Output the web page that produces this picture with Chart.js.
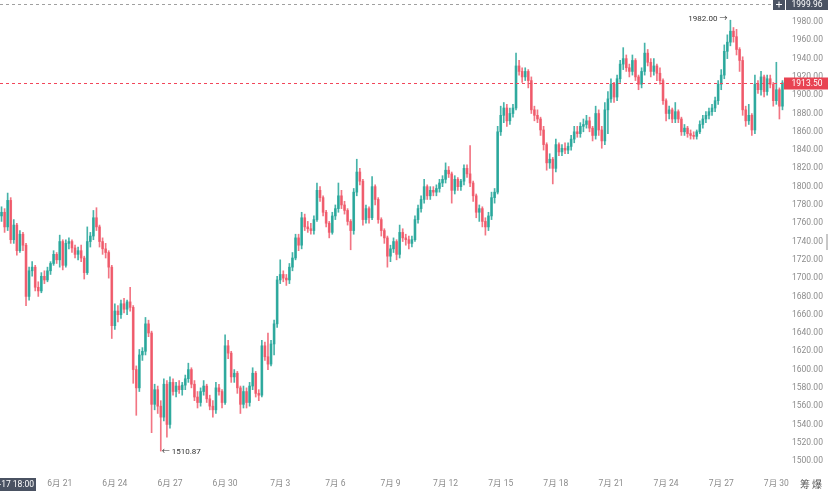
<!DOCTYPE html>
<html>
<head>
<meta charset="utf-8">
<script src="https://cdn.jsdelivr.net/npm/chart.js@4.4.1/dist/chart.umd.min.js"></script>
<style>
html,body{margin:0;padding:0;background:#fff;}
#wrap{width:828px;height:495px;position:relative;}
</style>
</head>
<body>
<div id="wrap"><canvas id="c" width="828" height="495"></canvas></div>
<script>
// ---- data (4-hour candles, starting 6-17 20:00) ----
const openPrices = [
1768,1772,1756,1785,1742,1758,1730,1748,1736,1680,
1708,1712,1690,1686,1702,1698,1708,1716,1726,1720,
1740,1714,1738,1740,1733,1726,1730,1722,1706,1740,
1746,1766,1756,1740,1732,1728,1712,1648,1664,1660,
1672,1666,1674,1668,1600,1580,1616,1620,1650,1640,
1562,1578,1560,1548,1584,1540,1586,1576,1582,1578,
1583,1590,1600,1584,1570,1564,1576,1582,1568,1560,
1556,1580,1576,1564,1626,1618,1592,1596,1580,1562,
1576,1564,1582,1596,1574,1572,1626,1614,1606,1628,
1650,1698,1704,1700,1698,1712,1722,1744,1736,1766,
1756,1754,1752,1764,1796,1788,1772,1760,1750,1768,
1776,1790,1780,1774,1762,1752,1794,1816,1806,1764,
1776,1766,1800,1786,1764,1752,1744,1724,1732,1740,
1726,1750,1744,1742,1738,1742,1764,1776,1786,1800,
1790,1796,1794,1798,1804,1808,1818,1814,1796,1808,
1800,1806,1820,1814,1804,1790,1772,1776,1762,1756,
1768,1788,1794,1860,1878,1886,1872,1880,1886,1932,
1926,1920,1926,1916,1884,1878,1874,1862,1846,1826,
1830,1820,1846,1838,1842,1840,1844,1852,1860,1858,
1866,1868,1872,1864,1856,1880,1862,1850,1884,1896,
1912,1898,1918,1934,1940,1930,1926,1938,1920,1912,
1926,1946,1936,1926,1932,1924,1916,1894,1880,1884,
1874,1882,1874,1860,1864,1858,1856,1855,1860,1868,
1874,1878,1882,1886,1894,1912,1922,1948,1958,1970,
1964,1950,1938,1884,1872,1878,1862,1912,1906,1920,
1904,1918,1912,1894,1906,1888
];
const highPrices = [
1778,1776,1793,1788,1764,1760,1752,1750,1738,1712,
1718,1714,1696,1706,1708,1712,1718,1730,1728,1747,
1742,1742,1744,1742,1736,1734,1736,1724,1756,1750,
1774,1777,1758,1744,1738,1730,1714,1672,1670,1676,
1678,1676,1690,1670,1604,1622,1624,1657,1654,1642,
1584,1582,1566,1590,1588,1592,1590,1586,1588,1586,
1594,1607,1602,1588,1576,1580,1588,1584,1572,1566,
1586,1584,1578,1638,1632,1620,1600,1598,1582,1582,
1580,1586,1602,1598,1578,1632,1630,1640,1632,1654,
1702,1720,1708,1704,1716,1728,1748,1748,1772,1770,
1762,1760,1768,1804,1800,1790,1774,1762,1772,1780,
1804,1796,1784,1776,1764,1798,1830,1820,1808,1780,
1778,1811,1802,1788,1766,1754,1746,1736,1744,1742,
1758,1754,1748,1746,1746,1768,1780,1790,1808,1802,
1800,1800,1802,1808,1812,1826,1822,1816,1812,1810,
1808,1824,1824,1845,1806,1792,1780,1778,1766,1772,
1794,1798,1866,1888,1892,1890,1886,1890,1946,1938,
1930,1930,1928,1920,1888,1884,1876,1866,1848,1836,
1832,1852,1848,1846,1848,1848,1856,1866,1866,1870,
1874,1878,1876,1866,1888,1884,1866,1892,1904,1918,
1914,1922,1938,1952,1944,1934,1944,1940,1922,1930,
1957,1950,1940,1940,1934,1930,1918,1896,1888,1886,
1892,1884,1876,1868,1866,1862,1860,1862,1872,1878,
1882,1886,1890,1898,1916,1928,1955,1966,1982,1974,
1972,1952,1942,1888,1890,1880,1922,1916,1926,1922,
1922,1922,1914,1936,1908,1916
];
const lowPrices = [
1762,1750,1752,1738,1738,1725,1728,1730,1670,1676,
1702,1686,1680,1684,1694,1696,1704,1714,1716,1712,
1709,1712,1732,1728,1722,1720,1718,1699,1704,1734,
1742,1752,1734,1726,1722,1700,1634,1644,1652,1656,
1662,1660,1664,1585,1550,1576,1610,1616,1636,1531,
1556,1552,1510.87,1544,1526,1536,1572,1570,1574,1572,
1578,1586,1580,1566,1558,1560,1572,1564,1556,1548,
1552,1572,1558,1562,1612,1586,1586,1574,1552,1558,
1558,1560,1578,1570,1566,1570,1610,1600,1604,1616,
1646,1694,1696,1692,1694,1708,1720,1730,1732,1752,
1750,1748,1748,1762,1784,1768,1756,1744,1748,1764,
1772,1776,1770,1758,1731,1748,1790,1802,1758,1760,
1760,1764,1780,1760,1746,1738,1712,1718,1728,1720,
1722,1740,1736,1732,1734,1740,1760,1772,1782,1786,
1786,1790,1790,1794,1800,1804,1810,1782,1792,1796,
1796,1802,1810,1800,1784,1766,1762,1756,1747,1752,
1764,1782,1792,1856,1870,1866,1868,1876,1884,1922,
1914,1916,1908,1880,1872,1870,1856,1840,1818,1820,
1803,1816,1834,1834,1836,1836,1840,1848,1854,1854,
1860,1864,1860,1850,1852,1856,1842,1846,1858,1892,
1892,1894,1914,1928,1926,1920,1922,1916,1906,1908,
1922,1932,1920,1922,1916,1912,1890,1872,1874,1870,
1870,1870,1856,1856,1854,1852,1852,1852,1858,1864,
1870,1874,1878,1882,1890,1906,1918,1940,1954,1958,
1944,1926,1878,1866,1868,1856,1858,1902,1900,1898,
1900,1908,1888,1890,1874,1884
];
const closePrices = [
1772,1756,1785,1742,1758,1730,1748,1736,1680,1708,
1712,1690,1686,1702,1698,1708,1716,1726,1720,1740,
1714,1738,1740,1733,1726,1730,1722,1706,1740,1746,
1766,1756,1740,1732,1728,1712,1648,1664,1660,1672,
1666,1674,1668,1600,1580,1616,1620,1650,1640,1562,
1578,1560,1548,1584,1540,1586,1576,1582,1578,1583,
1590,1600,1584,1570,1564,1576,1582,1568,1560,1556,
1580,1576,1564,1626,1618,1592,1596,1580,1562,1576,
1564,1582,1596,1574,1572,1626,1614,1606,1628,1650,
1698,1704,1700,1698,1712,1722,1744,1736,1766,1756,
1754,1752,1764,1796,1788,1772,1760,1750,1768,1776,
1790,1780,1774,1762,1752,1794,1816,1806,1764,1776,
1766,1800,1786,1764,1752,1744,1724,1732,1740,1726,
1750,1744,1742,1738,1742,1764,1776,1786,1800,1790,
1796,1794,1798,1804,1808,1818,1814,1796,1808,1800,
1806,1820,1814,1804,1790,1772,1776,1762,1756,1768,
1788,1794,1860,1878,1886,1872,1880,1886,1932,1926,
1920,1926,1916,1884,1878,1874,1862,1846,1826,1830,
1820,1846,1838,1842,1840,1844,1852,1860,1858,1866,
1868,1872,1864,1856,1880,1862,1850,1884,1896,1912,
1898,1918,1934,1940,1930,1926,1938,1920,1912,1926,
1946,1936,1926,1932,1924,1916,1894,1880,1884,1874,
1882,1874,1860,1864,1858,1856,1855,1860,1868,1874,
1878,1882,1886,1894,1912,1922,1948,1958,1970,1964,
1950,1938,1884,1872,1878,1862,1912,1906,1920,1904,
1918,1912,1894,1906,1888,1913.5
];
const tickDates  = ['6-21','6-24','6-27','6-30','7-3','7-6','7-9','7-12','7-15','7-18','7-21','7-24','7-27','7-30'];
const tickLabels = ['6月 21','6月 24','6月 27','6月 30','7月 3','7月 6','7月 9','7月 12','7月 15','7月 18','7月 21','7月 24','7月 27','7月 30'];
const yTickValues = [1500,1520,1540,1560,1580,1600,1620,1640,1660,1680,1700,1720,1740,1760,1780,1800,1820,1840,1860,1880,1900,1920,1940,1960,1980];
const crosshairPrice = 1999.96;
const crosshairTimeLabel = '6-17 18:00';
const cornerText = '筹 爆';

// categories: one per 4h candle
const startMonth = 6, startDay = 17, startHour = 20, stepHours = 4;
const categories = closePrices.map((_, i) => {
  const d = new Date(Date.UTC(2024, startMonth - 1, startDay, startHour + i * stepHours));
  return (d.getUTCMonth() + 1) + '-' + d.getUTCDate() + ' ' + String(d.getUTCHours()).padStart(2, '0') + ':00';
});

const UP = 'rgba(38,166,154,0.85)', DOWN = 'rgba(239,83,100,0.8)';
const colorFor = (ctx) => closePrices[ctx.dataIndex] >= openPrices[ctx.dataIndex] ? UP : DOWN;
const FONT = 'Roboto, "Noto Sans CJK SC", sans-serif';

const overlay = {
  id: 'overlay',
  afterDraw(chart) {
    const { ctx, chartArea: a, scales: { x, y } } = chart;
    ctx.save();
    // crosshair horizontal line
    const yc = Math.round(y.getPixelForValue(crosshairPrice)) + 0.5;
    ctx.lineWidth = 1;
    ctx.setLineDash([3, 3]);
    ctx.strokeStyle = '#a0a0a0';
    ctx.beginPath(); ctx.moveTo(a.left, yc); ctx.lineTo(a.right - 12, yc); ctx.stroke();
    // last price line
    const last = closePrices[closePrices.length - 1];
    const yl = Math.round(y.getPixelForValue(last)) + 0.5;
    ctx.setLineDash([3, 3]);
    ctx.strokeStyle = 'rgb(242,70,90)';
    ctx.beginPath(); ctx.moveTo(a.left, yl); ctx.lineTo(a.right, yl); ctx.stroke();
    ctx.setLineDash([]);

    // crosshair price label + plus box
    ctx.fillStyle = '#4a5262';
    ctx.fillRect(a.right + 2, yc - 6.5, 828 - a.right - 2, 12);
    ctx.fillRect(a.right - 11, yc - 6.5, 12, 12);
    ctx.fillStyle = '#fff';
    ctx.font = '8.5px ' + FONT;
    ctx.textBaseline = 'middle';
    ctx.textAlign = 'center';
    ctx.fillText(crosshairPrice.toFixed(2), (a.right + 2 + 828) / 2, yc);
    ctx.strokeStyle = '#fff';
    ctx.beginPath();
    ctx.moveTo(a.right - 8, yc); ctx.lineTo(a.right - 2, yc);
    ctx.moveTo(a.right - 5, yc - 3); ctx.lineTo(a.right - 5, yc + 3);
    ctx.stroke();

    // last price label
    ctx.fillStyle = '#e84352';
    ctx.fillRect(a.right, yl - 6, 828 - a.right, 12);
    ctx.fillStyle = '#fff';
    ctx.fillText(last.toFixed(2), (a.right + 828) / 2 + 1, yl);

    // high / low annotations
    let hi = 0, lo = 0;
    highPrices.forEach((v, i) => { if (v > highPrices[hi]) hi = i; });
    lowPrices.forEach((v, i) => { if (v < lowPrices[lo]) lo = i; });
    ctx.fillStyle = '#333';
    ctx.font = '8px ' + FONT;
    ctx.textAlign = 'right';
    ctx.fillText(highPrices[hi].toFixed(2) + ' →', x.getPixelForValue(hi) - 3, y.getPixelForValue(highPrices[hi]) - 1);
    ctx.textAlign = 'left';
    ctx.fillText('← ' + lowPrices[lo].toFixed(2), x.getPixelForValue(lo) + 1, y.getPixelForValue(lowPrices[lo]) + 1);

    // crosshair time label (bottom-left)
    ctx.fillStyle = '#4a5262';
    ctx.fillRect(0, 478, 36, 13);
    ctx.fillStyle = '#fff';
    ctx.font = '8.5px ' + FONT;
    ctx.textAlign = 'right';
    ctx.fillText(crosshairTimeLabel, 34, 484.5);

    // bottom-right text
    ctx.fillStyle = '#555';
    ctx.font = '10px "Noto Sans CJK SC", sans-serif';
    ctx.textAlign = 'center';
    ctx.fillText(cornerText, 811, 484);

    // small scroll tab at right edge
    ctx.fillStyle = '#c8c8c8';
    ctx.fillRect(826, 234, 2, 16);
    ctx.restore();
  }
};

new Chart(document.getElementById('c'), {
  type: 'bar',
  data: {
    labels: categories,
    datasets: [
      {
        label: 'wick',
        data: lowPrices.map((l, i) => [l, highPrices[i]]),
        backgroundColor: colorFor,
        barThickness: 1,
        grouped: false,
        order: 2
      },
      {
        label: 'body',
        data: openPrices.map((o, i) => [o, closePrices[i]]),
        backgroundColor: colorFor,
        barThickness: 2,
        minBarLength: 1,
        grouped: false,
        order: 1
      }
    ]
  },
  options: {
    responsive: false,
    animation: false,
    layout: { padding: 0 },
    plugins: { legend: { display: false }, tooltip: { enabled: false } },
    scales: {
      x: {
        offset: true,
        grid: { display: false, drawTicks: false },
        border: { display: false },
        afterFit: (s) => { s.height = 25; s.paddingLeft = 0; s.paddingRight = 0; },
        ticks: {
          autoSkip: false,
          maxRotation: 0,
          padding: 9,
          color: '#8c8c8c',
          font: { family: FONT, size: 8.5 },
          callback: (v, i) => {
            const c = categories[i];
            const k = tickDates.findIndex(d => c === d + ' 00:00');
            return k >= 0 ? tickLabels[k] : null;
          }
        }
      },
      y: {
        position: 'right',
        min: 1490.2,
        max: 2004.1,
        grid: { display: false, drawTicks: false },
        border: { display: false },
        afterFit: (s) => { s.width = 44; s.paddingTop = 0; s.paddingBottom = 0; },
        afterBuildTicks: (s) => { s.ticks = yTickValues.map(v => ({ value: v })); },
        ticks: {
          padding: 8,
          color: '#8c8c8c',
          font: { family: FONT, size: 8.5 },
          callback: (v) => Number(v).toFixed(2)
        }
      }
    }
  },
  plugins: [overlay]
});
</script>
</body>
</html>
